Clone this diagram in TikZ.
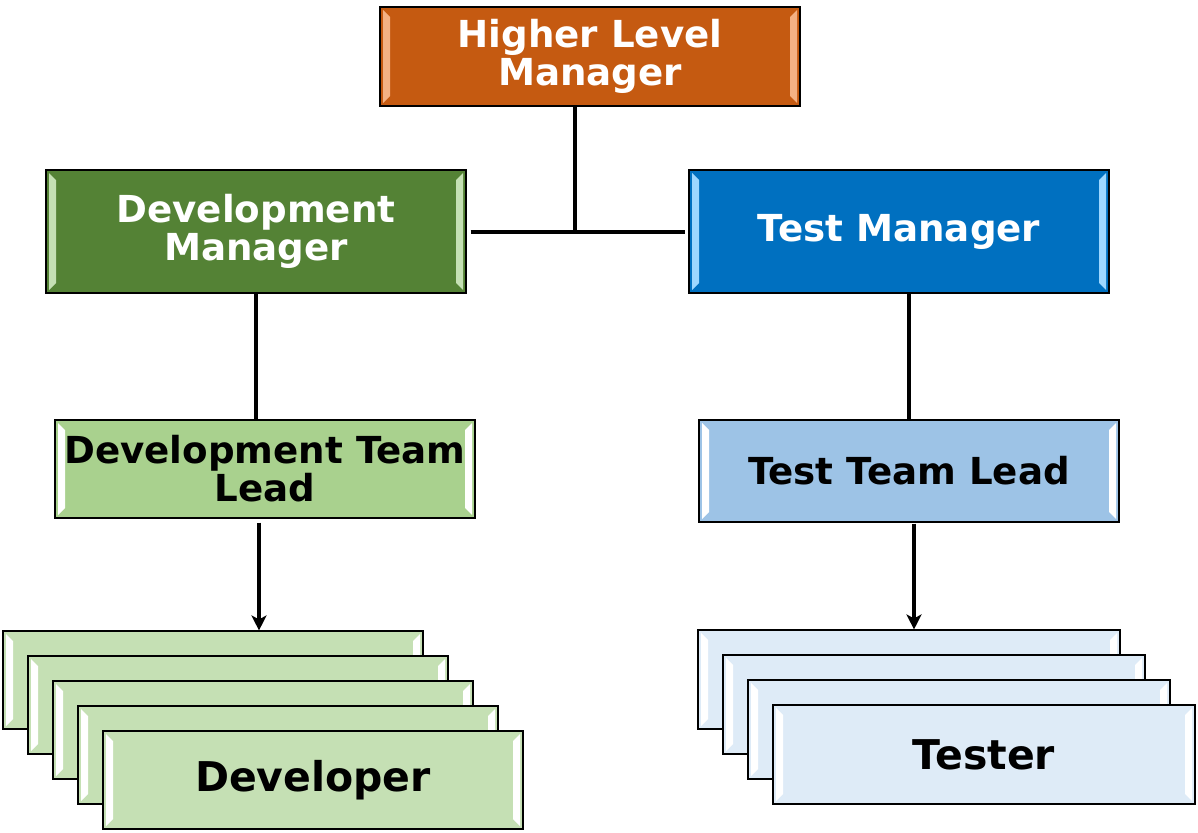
\documentclass[tikz,border=0pt]{standalone}
\usepackage{fontspec}
\setmainfont{DejaVu Sans}
\usepackage{tikz}
\usetikzlibrary{positioning,arrows.meta}

\definecolor{hlmfill}{HTML}{C55A11}
\definecolor{hlmedge}{HTML}{F4B183}
\definecolor{dmfill}{HTML}{548235}
\definecolor{dmedge}{HTML}{C5E0B4}
\definecolor{tmfill}{HTML}{0070C0}
\definecolor{tmedge}{HTML}{9DD7FF}
\definecolor{dlfill}{HTML}{A9D18E}
\definecolor{tlfill}{HTML}{9DC3E6}
\definecolor{devfill}{HTML}{C5E0B4}
\definecolor{tstfill}{HTML}{DEEBF7}

\begin{document}
\begin{tikzpicture}[
            x=1pt, y=-1pt,
            bevel/.style={path picture={
                \fill[#1] ([shift={(3pt,-3pt)}]path picture bounding box.north west)
                    -- ([shift={(10pt,-10pt)}]path picture bounding box.north west)
                    -- ([shift={(10pt,10pt)}]path picture bounding box.south west)
                    -- ([shift={(3pt,3pt)}]path picture bounding box.south west) -- cycle;
                \fill[#1] ([shift={(-3pt,-3pt)}]path picture bounding box.north east)
                    -- ([shift={(-10pt,-10pt)}]path picture bounding box.north east)
                    -- ([shift={(-10pt,10pt)}]path picture bounding box.south east)
                    -- ([shift={(-3pt,3pt)}]path picture bounding box.south east) -- cycle;
            }},
            box/.style={rectangle, draw=black, line width=1.1pt, minimum width=420pt,
                inner sep=0pt, align=center, font=\fontsize{37.2}{38}\selectfont\bfseries},
            mgr/.style={box, minimum height=123pt, text=white},
            lead/.style={box, minimum height=100pt, text=black, bevel=white},
            member/.style={box, minimum height=98pt, text=black, bevel=white,
                font=\fontsize{41}{42}\selectfont\bfseries},
            link/.style={line width=4pt},
            arrow/.style={line width=3.6pt, -{Stealth[length=15pt,width=15pt,inset=4pt]}}
        ]
        \useasboundingbox (0,0) rectangle (1198,832);

        %managers
        \node[box, minimum height=99pt, text=white, fill=hlmfill, bevel=hlmedge]
                            (HLM)       at (590,56.5)   {Higher Level\\Manager};
        \node[mgr, fill=dmfill, bevel=dmedge]  (DevMgr)   at (256,231.5)  {Development\\Manager};
        \node[mgr, fill=tmfill, bevel=tmedge]  (TestMgr)  at (899,231.5)  {Test Manager};

        %leads
        \node[lead, fill=dlfill, minimum height=98pt]   (DevLead)  at (265,469)  {Development Team\\Lead};
        \node[lead, fill=tlfill, minimum height=102pt]  (TestLead) at (909,471)  {Test Team Lead};

        %developers
        \node[member, fill=devfill]  (Dev1)  at (213,680)  {};
        \node[member, fill=devfill]  (Dev2)  at (238,705)  {};
        \node[member, fill=devfill]  (Dev3)  at (263,730)  {};
        \node[member, fill=devfill]  (Dev4)  at (288,755)  {};
        \node[member, fill=devfill]  (Dev5)  at (313,780)  {Developer};

        %testers
        \node[member, fill=tstfill, minimum width=422pt, minimum height=99pt]  (Tst1)  at (909,679.5)  {};
        \node[member, fill=tstfill, minimum width=422pt, minimum height=99pt]  (Tst2)  at (934,704.5)  {};
        \node[member, fill=tstfill, minimum width=422pt, minimum height=99pt]  (Tst3)  at (959,729.5)  {};
        \node[member, fill=tstfill, minimum width=422pt, minimum height=99pt]  (Tst4)  at (984,754.5)  {Tester};

        %lines
        \coordinate (join) at (575,231);
        \draw[link] (HLM.south -| join) -- (join);
        \draw[link, shorten <=4pt, shorten >=3pt] (DevMgr.east) -- (TestMgr.west);
        \draw[link] (DevMgr.south) -- (DevMgr.south |- DevLead.north);
        \draw[link] (TestLead.north) -- (TestLead.north |- TestMgr.south);

        %arrows
        \draw[arrow, shorten <=4pt] ([xshift=-6pt]DevLead.south) -- ([xshift=-6pt]DevLead.south |- Dev1.north);
        \draw[arrow, shorten <=1pt] ([xshift=5pt]TestLead.south) -- ([xshift=5pt]TestLead.south |- Tst1.north);

        \end{tikzpicture}
\end{document}
